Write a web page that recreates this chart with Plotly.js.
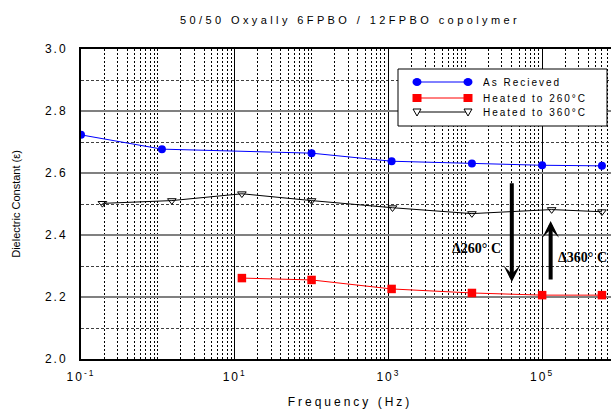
<!DOCTYPE html>
<html>
<head>
<meta charset="utf-8">
<script src="https://cdn.plot.ly/plotly-3.0.1.min.js"></script>
<style>
  html, body { margin: 0; padding: 0; overflow: hidden; background: #fff; }
  #chart { width: 640px; height: 412px; }
  .gtitle { letter-spacing: 3.4px; }
  .xtitle { letter-spacing: 3px; }
  .xtick text, .ytick text { letter-spacing: 2px; }
  .annotation[data-index="0"] text,
  .annotation[data-index="1"] text,
  .annotation[data-index="2"] text { letter-spacing: 2px; }
</style>
</head>
<body>
<div id="chart"></div>
<script>
// ---- data ----
var seriesNames = ['As Recieved', 'Heated to 260\u00B0C', 'Heated to 360\u00B0C'];

var freqAsReceived = [0.1, 1.13, 100, 1100, 12200, 100000, 600000];
var epsAsReceived  = [2.723, 2.677, 2.664, 2.638, 2.631, 2.625, 2.623];

var freq260 = [12.4, 100, 1100, 12200, 100000, 600000];
var eps260  = [2.261, 2.255, 2.226, 2.213, 2.206, 2.206];

var freq360 = [0.19, 1.52, 12.4, 100, 1130, 12200, 133000, 600000];
var eps360  = [2.502, 2.511, 2.533, 2.511, 2.488, 2.469, 2.482, 2.475];

var xTickVals = [0.1, 10, 1000, 100000];
var xTickText = ['10<sup>-1</sup>', '10<sup>1</sup>', '10<sup>3</sup>', '10<sup>5</sup>'];
var yTickVals = [2.0, 2.2, 2.4, 2.6, 2.8, 3.0];
var yTickText = ['2.0', '2.2', '2.4', '2.6', '2.8', '3.0'];

// delta annotations: label, freq, eps
var deltaLabels = ['\u0394260\u00B0 C', '\u0394360\u00B0 C'];
var deltaLabelFreq = [14000, 150000];
var deltaLabelEps = [2.355, 2.329];
// arrows: tip (freq, eps) and tail eps
var arrowFreq = [40300, 129000];
var arrowTipEps = [2.248, 2.445];
var arrowTailEps = [2.594, 2.229];

// minor (dotted) vertical grid positions
var minorX = [];
for (var d = -1; d <= 6; d++) {
  for (var m = 1; m <= 9; m++) {
    if (m === 1 && (d % 2 !== 0)) continue;
    if (d === 6 && m > 1) continue;
    minorX.push(m * Math.pow(10, d));
  }
}

var colors = ['#0000ff', '#ff0000', '#000000'];

var traces = [
  { x: freqAsReceived, y: epsAsReceived, name: seriesNames[0], mode: 'lines+markers', type: 'scatter',
    line: { color: colors[0], width: 1 }, marker: { symbol: 'circle', size: 8, color: colors[0] } },
  { x: freq260, y: eps260, name: seriesNames[1], mode: 'lines+markers', type: 'scatter',
    line: { color: colors[1], width: 1 }, marker: { symbol: 'square', size: 8.5, color: colors[1] } },
  { x: freq360, y: eps360, name: seriesNames[2], mode: 'lines+markers', type: 'scatter',
    line: { color: colors[2], width: 1 }, marker: { symbol: 'triangle-down-open', size: 7.5, color: '#000', line: { width: 1, color: '#000' } } }
];

// plot area geometry (px) used for paper coords of the custom legend
var L = 81, R = 619, T = 49, B = 359;
function px(x) { return (x - L) / (R - L); }
function py(y) { return (B - y) / (B - T); }

var legendRows = [82, 98, 112];
var legX0 = 417, legX1 = 468, legText = 481;

var shapes = [
  { type: 'rect', xref: 'paper', yref: 'paper', x0: px(398), x1: px(607), y0: py(126), y1: py(69),
    fillcolor: '#ffffff', line: { color: '#000', width: 1 }, layer: 'above' }
];
var annotations = [];
for (var i = 0; i < 3; i++) {
  var yy = py(legendRows[i]);
  shapes.push({ type: 'line', xref: 'paper', yref: 'paper', x0: px(legX0), x1: px(legX1), y0: yy, y1: yy,
    line: { color: colors[i], width: 1 } });
  [legX0, legX1].forEach(function (xp) {
    var base = { xref: 'paper', yref: 'paper', xsizemode: 'pixel', ysizemode: 'pixel',
      xanchor: px(xp), yanchor: yy };
    if (i === 0) {
      shapes.push(Object.assign({}, base, { type: 'circle', x0: -4.5, x1: 4.5, y0: -4, y1: 4,
        fillcolor: colors[0], line: { width: 0 } }));
    } else if (i === 1) {
      shapes.push(Object.assign({}, base, { type: 'rect', x0: -4.5, x1: 4.5, y0: -4, y1: 4,
        fillcolor: colors[1], line: { width: 0 } }));
    } else {
      shapes.push(Object.assign({}, base, { type: 'path', path: 'M-4,3L4,3L0,-4Z',
        fillcolor: '#ffffff', line: { color: '#000', width: 1 } }));
    }
  });
  annotations.push({ xref: 'paper', yref: 'paper', x: px(legText), y: yy, xanchor: 'left', yanchor: 'middle',
    align: 'left', width: 124,
    text: seriesNames[i], showarrow: false,
    font: { family: 'Liberation Sans, Arial, sans-serif', size: 10, color: '#000' } });
}

for (var k = 0; k < 2; k++) {
  annotations.push({ xref: 'x', yref: 'y', x: Math.log10(deltaLabelFreq[k]), y: deltaLabelEps[k],
    xanchor: k === 0 ? 'center' : 'left', yanchor: 'middle', text: '<b>' + deltaLabels[k] + '</b>', showarrow: false,
    font: { family: 'Liberation Serif, Times New Roman, serif', size: 14, color: '#000' } });
  annotations.push({ xref: 'x', yref: 'y', axref: 'x', ayref: 'y',
    x: Math.log10(arrowFreq[k]), y: arrowTipEps[k], ax: Math.log10(arrowFreq[k]), ay: arrowTailEps[k],
    text: ' ', showarrow: true, arrowhead: 3, arrowsize: 0.7, arrowwidth: 4, arrowcolor: '#000', standoff: 0 });
}

var layout = {
  width: 640, height: 412,
  margin: { l: L, r: 640 - R, t: T, b: 412 - B },
  paper_bgcolor: '#fff', plot_bgcolor: '#fff',
  showlegend: false,
  font: { family: 'Liberation Sans, Arial, sans-serif', color: '#000' },
  title: { text: '50/50 Oxyally 6FPBO / 12FPBO copolymer', x: px(350), xref: 'paper',
    y: 1 - 20 / 412, yanchor: 'middle',
    font: { family: 'Liberation Sans, Arial, sans-serif', size: 11, color: '#000' } },
  xaxis: {
    type: 'log', range: [-1, 6], tickmode: 'array', tickvals: xTickVals, ticktext: xTickText,
    ticks: '', ticklabelstandoff: 6,
    tickfont: { size: 12, color: '#000' },
    showgrid: true, gridcolor: '#000', gridwidth: 1,
    minor: { tickmode: 'array', tickvals: minorX, showgrid: true, gridcolor: '#000', gridwidth: 1, griddash: '2px,2px', ticks: '' },
    showline: true, linecolor: '#000', linewidth: 2, mirror: true, zeroline: false,
    title: { text: 'Frequency (Hz)', standoff: 14, font: { size: 12, color: '#000' } }
  },
  yaxis: {
    range: [2.0, 3.0], tickmode: 'array', tickvals: yTickVals, ticktext: yTickText,
    ticks: '', ticklabelstandoff: 9,
    tickfont: { size: 12, color: '#000' },
    showgrid: true, gridcolor: '#808080', gridwidth: 2,
    minor: { dtick: 0.1, showgrid: true, gridcolor: '#404040', gridwidth: 1, griddash: '3px,2px', ticks: '' },
    showline: true, linecolor: '#000', linewidth: 2, mirror: false, zeroline: false,
    title: { text: 'Dielectric Constant (\u03B5)', standoff: 22, font: { size: 11, color: '#000' } }
  },
  shapes: shapes,
  annotations: annotations
};

Plotly.newPlot('chart', traces, layout, { displayModeBar: false, staticPlot: true });
</script>
</body>
</html>
